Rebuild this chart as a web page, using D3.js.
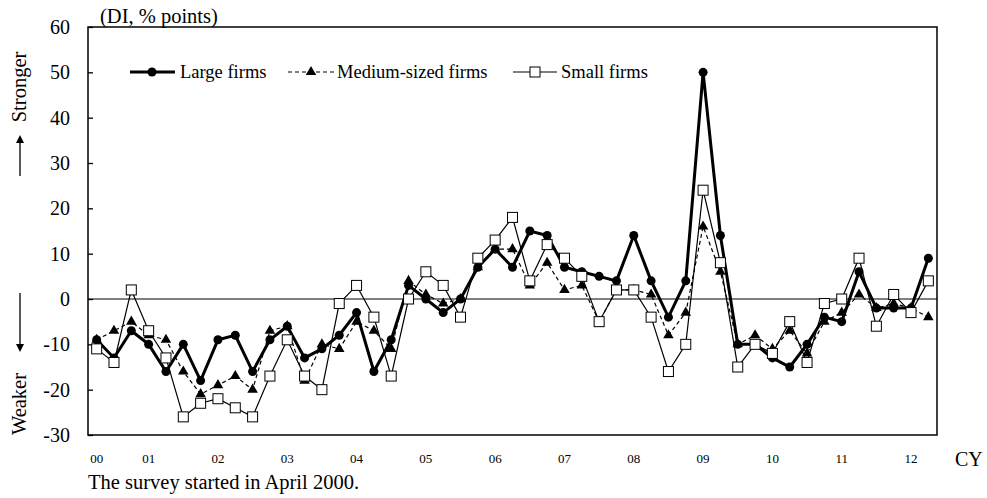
<!DOCTYPE html>
<html>
<head>
<meta charset="utf-8">
<script src="https://cdn.jsdelivr.net/npm/d3@7"></script>
<style>
  body { margin: 0; background: #fff; }
  svg { font-family: "Liberation Serif", "Times New Roman", serif; }
</style>
</head>
<body>
<svg width="987" height="498"></svg>
<script>
// quarters from 2000 Q2 to 2012 Q2
var quarters = [
  "2000Q2","2000Q3","2000Q4",
  "2001Q1","2001Q2","2001Q3","2001Q4",
  "2002Q1","2002Q2","2002Q3","2002Q4",
  "2003Q1","2003Q2","2003Q3","2003Q4",
  "2004Q1","2004Q2","2004Q3","2004Q4",
  "2005Q1","2005Q2","2005Q3","2005Q4",
  "2006Q1","2006Q2","2006Q3","2006Q4",
  "2007Q1","2007Q2","2007Q3","2007Q4",
  "2008Q1","2008Q2","2008Q3","2008Q4",
  "2009Q1","2009Q2","2009Q3","2009Q4",
  "2010Q1","2010Q2","2010Q3","2010Q4",
  "2011Q1","2011Q2","2011Q3","2011Q4",
  "2012Q1","2012Q2"
];

var large = [-9,-13,-7,-10,-16,-10,-18,-9,-8,-16,-9,-6,-13,-11,-8,-3,-16,-9,3,0,-3,0,7,11,7,15,14,7,6,5,4,14,4,-4,4,50,14,-10,-10,-13,-15,-10,-4,-5,6,-2,-2,-2,9];
var medium = [-9,-7,-5,-8,-9,-16,-21,-19,-17,-20,-7,-6,-18,-10,-11,-5,-7,-11,4,1,-1,0,7,11,11,3,8,2,3,-5,2,2,1,-8,-3,16,6,-10,-8,-11,-7,-12,-5,-3,1,-2,-1,-2,-4];
var small = [-11,-14,2,-7,-13,-26,-23,-22,-24,-26,-17,-9,-17,-20,-1,3,-4,-17,0,6,3,-4,9,13,18,4,12,9,5,-5,2,2,-4,-16,-10,24,8,-15,-10,-12,-5,-14,-1,0,9,-6,1,-3,4];

// year labels and the quarter each sits on
var tickQuarters = ["2000Q2","2001Q1","2002Q1","2003Q1","2004Q1","2005Q1","2006Q1","2007Q1","2008Q1","2009Q1","2010Q1","2011Q1","2012Q1"];
var tickLabels = ["00","01","02","03","04","05","06","07","08","09","10","11","12"];
var yTicks = [-30,-20,-10,0,10,20,30,40,50,60];

var svg = d3.select("svg");
var pLeft = 88, pRight = 937, pTop = 27, pBottom = 435;

var x = d3.scaleBand().domain(quarters).range([pLeft, pRight]);
var y = d3.scaleLinear().domain([-30, 60]).range([pBottom, pTop]);
var cx = function(q) { return x(q) + x.bandwidth() / 2; };

// zero line
svg.append("line")
  .attr("x1", pLeft).attr("x2", pRight)
  .attr("y1", y(0)).attr("y2", y(0))
  .attr("stroke", "#000").attr("stroke-width", 1);

// y axis: ticks pointing inward
var yAxis = svg.append("g")
  .attr("transform", "translate(" + pLeft + ",0)")
  .call(d3.axisRight(y).tickValues(yTicks).tickSize(5).tickFormat(function(d){ return d; }));
yAxis.select(".domain").remove();
yAxis.selectAll("line").attr("stroke", "#000").attr("stroke-width", 1.3);
yAxis.selectAll("text")
  .attr("x", -18).attr("text-anchor", "end")
  .attr("font-size", "20px").attr("fill", "#000")
  .attr("font-family", "Liberation Serif");

// x axis labels
var xAxis = svg.append("g")
  .attr("transform", "translate(0," + pBottom + ")")
  .call(d3.axisBottom(x).tickValues(tickQuarters).tickSize(0)
    .tickFormat(function(d){ return tickLabels[tickQuarters.indexOf(d)]; }));
xAxis.select(".domain").remove();
xAxis.selectAll("text")
  .attr("y", 19).attr("font-size", "13px").attr("fill", "#000")
  .attr("font-family", "Liberation Serif");

// plot frame
svg.append("rect")
  .attr("x", pLeft).attr("y", pTop)
  .attr("width", pRight - pLeft).attr("height", pBottom - pTop)
  .attr("fill", "none").attr("stroke", "#000").attr("stroke-width", 1.5);

var line = d3.line()
  .x(function(d, i){ return cx(quarters[i]); })
  .y(function(d){ return y(d); });

// large firms
svg.append("path").datum(large).attr("d", line)
  .attr("fill", "none").attr("stroke", "#000").attr("stroke-width", 3);
svg.selectAll(".large").data(large).enter().append("circle")
  .attr("class", "large")
  .attr("cx", function(d, i){ return cx(quarters[i]); })
  .attr("cy", function(d){ return y(d); })
  .attr("r", 4.5).attr("fill", "#000");

// medium-sized firms
var tri = d3.symbol().type(d3.symbolTriangle).size(48);
svg.append("path").datum(medium).attr("d", line)
  .attr("fill", "none").attr("stroke", "#000").attr("stroke-width", 1.2)
  .attr("stroke-dasharray", "4,3");
svg.selectAll(".medium").data(medium).enter().append("path")
  .attr("class", "medium")
  .attr("d", tri)
  .attr("transform", function(d, i){ return "translate(" + cx(quarters[i]) + "," + y(d) + ")"; })
  .attr("fill", "#000");

// small firms
svg.append("path").datum(small).attr("d", line)
  .attr("fill", "none").attr("stroke", "#000").attr("stroke-width", 1.2);
svg.selectAll(".small").data(small).enter().append("rect")
  .attr("class", "small")
  .attr("x", function(d, i){ return cx(quarters[i]) - 5; })
  .attr("y", function(d){ return y(d) - 5; })
  .attr("width", 10).attr("height", 10)
  .attr("fill", "#fff").attr("stroke", "#000").attr("stroke-width", 1);

// legend
var lg = svg.append("g").attr("font-size", "18.5px");
var ly = 72;
lg.append("line").attr("x1", 130).attr("x2", 175).attr("y1", ly).attr("y2", ly)
  .attr("stroke", "#000").attr("stroke-width", 3);
lg.append("circle").attr("cx", 152).attr("cy", ly).attr("r", 4.5);
lg.append("text").attr("x", 180).attr("y", ly + 6).text("Large firms");

lg.append("line").attr("x1", 288).attr("x2", 334).attr("y1", ly).attr("y2", ly)
  .attr("stroke", "#000").attr("stroke-width", 1.2).attr("stroke-dasharray", "4,3");
lg.append("path").attr("d", tri).attr("transform", "translate(311," + ly + ")");
lg.append("text").attr("x", 337).attr("y", ly + 6).text("Medium-sized firms");

lg.append("line").attr("x1", 513).attr("x2", 557).attr("y1", ly).attr("y2", ly)
  .attr("stroke", "#000").attr("stroke-width", 1.2);
lg.append("rect").attr("x", 530).attr("y", ly - 5).attr("width", 10).attr("height", 10)
  .attr("fill", "#fff").attr("stroke", "#000");
lg.append("text").attr("x", 561).attr("y", ly + 6).text("Small firms");

// unit label, side labels and arrows
svg.append("text").attr("x", 100).attr("y", 23).attr("font-size", "20.5px").text("(DI, % points)");

svg.append("text").attr("transform", "translate(26,87) rotate(-90)")
  .attr("text-anchor", "middle").attr("font-size", "20.5px").text("Stronger");
svg.append("text").attr("transform", "translate(26,404) rotate(-90)")
  .attr("text-anchor", "middle").attr("font-size", "20.5px").text("Weaker");

svg.append("line").attr("x1", 20).attr("x2", 20).attr("y1", 176).attr("y2", 142)
  .attr("stroke", "#000").attr("stroke-width", 1.3);
svg.append("path").attr("d", "M16,143 L24,143 L20,135 Z").attr("fill", "#000");
svg.append("line").attr("x1", 20).attr("x2", 20).attr("y1", 293).attr("y2", 345)
  .attr("stroke", "#000").attr("stroke-width", 1.3);
svg.append("path").attr("d", "M16,344 L24,344 L20,352 Z").attr("fill", "#000");

svg.append("text").attr("x", 955).attr("y", 466).attr("font-size", "20px").text("CY");
svg.append("text").attr("x", 88).attr("y", 489).attr("font-size", "20.5px")
  .text("The survey started in April 2000.");
</script>
</body>
</html>
